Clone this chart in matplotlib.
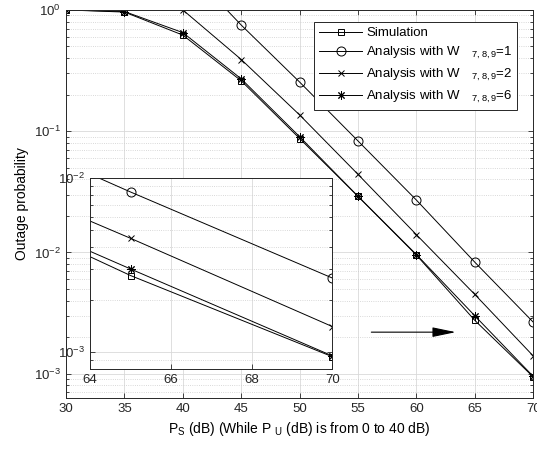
import numpy as np
import matplotlib
matplotlib.use('Agg')
import matplotlib.pyplot as plt

plt.rcParams['font.family'] = ['Liberation Sans', 'DejaVu Sans']
plt.rcParams['mathtext.fontset'] = 'custom'
plt.rcParams['mathtext.rm'] = 'Liberation Sans'
plt.rcParams['mathtext.it'] = 'Liberation Sans'

# P_S in dB
ps_sim = [30, 35, 40, 45, 50, 55, 60, 65, 70]
sim = [1.0, 0.96, 0.62, 0.26, 0.087, 0.029, 0.0095, 0.00275, 0.00094]

ps_w1 = [40, 45, 50, 55, 60, 65, 70]
w1 = [2.4, 0.75, 0.254, 0.083, 0.027, 0.0083, 0.00266]

ps_w2 = [40, 45, 50, 55, 60, 65, 70]
w2 = [1.0, 0.39, 0.136, 0.044, 0.014, 0.0045, 0.0014]

ps_w6 = [30, 35, 40, 45, 50, 55, 60, 65, 70]
w6 = [1.0, 0.97, 0.65, 0.27, 0.09, 0.029, 0.0096, 0.003, 0.00095]

labels = ['Simulation',
          r'Analysis with W$\quad\,_{7,8,9}$=1',
          r'Analysis with W$\quad\,_{7,8,9}$=2',
          r'Analysis with W$\quad\,_{7,8,9}$=6']

asterisk = (8, 2, 0)
series = [(ps_sim, sim, 's'), (ps_w1, w1, 'o'), (ps_w2, w2, 'x'), (ps_w6, w6, asterisk)]


def style_axes(ax):
    ax.set_yscale('log')
    ax.grid(True, which='major', color='#d9d9d9', linestyle='-', linewidth=0.6)
    ax.grid(True, which='minor', color='#cccccc', linestyle=':', linewidth=0.6)
    ax.tick_params(which='both', direction='in', top=True, right=True, labelsize=9.5,
                   colors='#262626', width=0.6)
    for s in ax.spines.values():
        s.set_color('#262626')
        s.set_linewidth(0.7)
    ax.set_axisbelow(True)


def draw(ax, with_labels):
    for (x, y, m), lab in zip(series, labels):
        ms = 4.5 if m in ('x', 's') else 6
        if m == 'o':
            ms = 6.5
        ax.plot(x, y, color='black', linewidth=0.7, marker=m, markersize=ms,
                markerfacecolor='none', markeredgewidth=0.7,
                label=lab if with_labels else None)


fig = plt.figure(figsize=(5.37, 4.51), dpi=100)
ax = fig.add_axes([0.123, 0.1175, 0.870, 0.8605])
style_axes(ax)
draw(ax, True)
ax.set_xlim(30, 70)
ax.set_ylim(6.3e-4, 1)
ax.set_xticks(range(30, 71, 5))
ax.set_ylabel('Outage probability', fontsize=10)
ax.set_xlabel(r'P$_S$ (dB) (While P $_U$ (dB) is from 0 to 40 dB)', fontsize=10)

leg = ax.legend(loc='upper right', bbox_to_anchor=(0.98, 0.985), fontsize=9.5,
                fancybox=False, framealpha=1, edgecolor='#262626',
                handlelength=3.3, borderpad=0.35, labelspacing=0.45, handletextpad=0.3)
leg.get_frame().set_linewidth(0.7)

ax.annotate('', xy=(63.6, 0.0022), xytext=(55.9, 0.0022),
            arrowprops=dict(arrowstyle='-|>,head_length=1.2,head_width=0.25',
                            color='black', lw=0.8, mutation_scale=12))

ins = fig.add_axes([0.168, 0.182, 0.451, 0.4235])
ins.set_facecolor('white')
style_axes(ins)
ins.tick_params(which='both', top=False, right=True)
draw(ins, False)
ins.set_xlim(64, 70)
ins.set_ylim(8e-4, 1e-2)
ins.set_xticks([64, 66, 68, 70])

fig.savefig('out.png', dpi=100)
